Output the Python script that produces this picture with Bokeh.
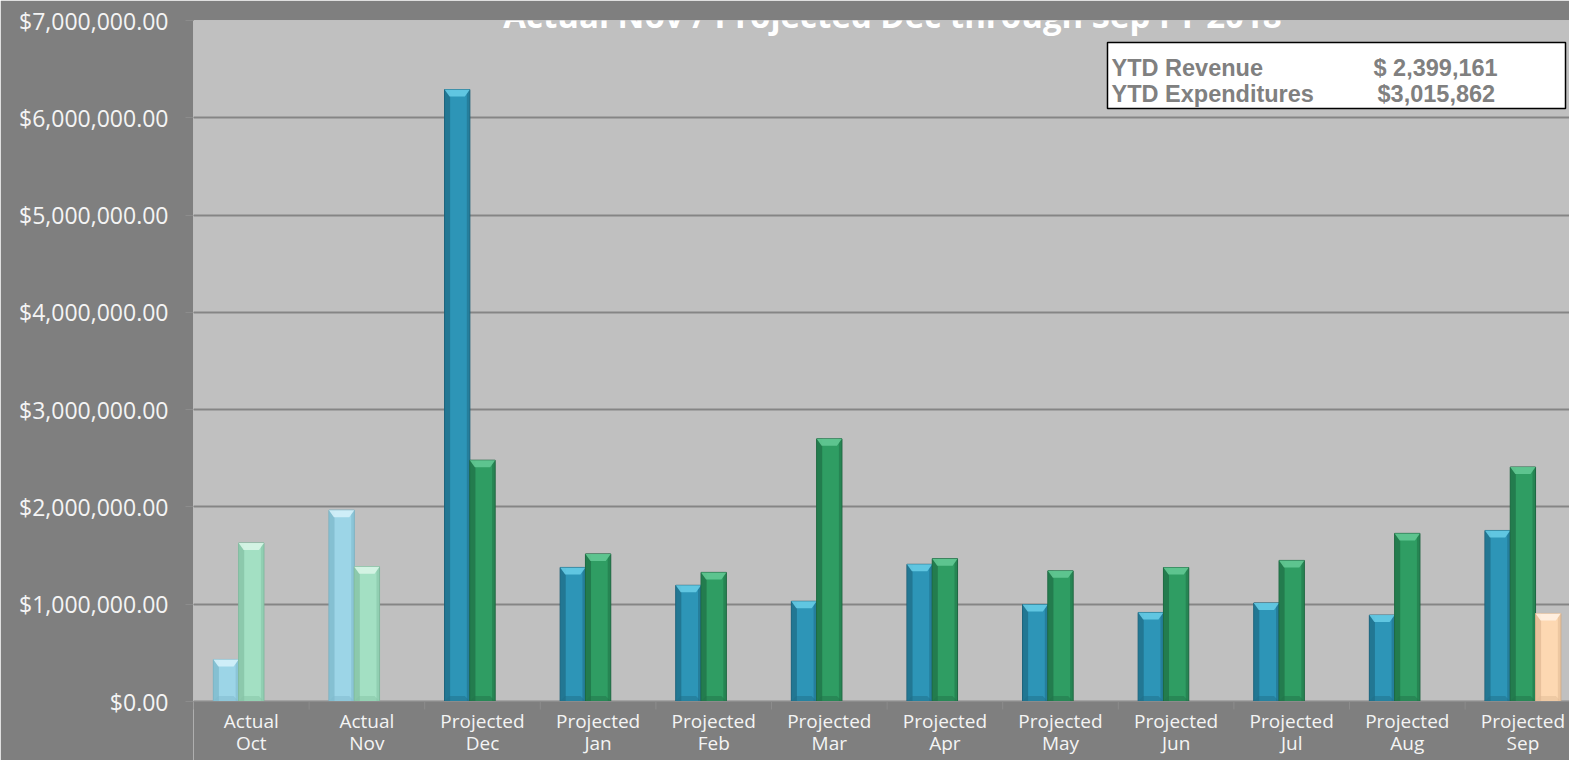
from bokeh.plotting import figure
from bokeh.models import (Range1d, FixedTicker, NumeralTickFormatter, Label,
                          BoxAnnotation, ColumnDataSource, Span)
from bokeh.core.properties import value
from bokeh.embed import file_html
from bokeh.resources import INLINE

# ---------------- data ----------------
status = ["Actual", "Actual", "Projected", "Projected", "Projected", "Projected",
          "Projected", "Projected", "Projected", "Projected", "Projected", "Projected"]
months = ["Oct", "Nov", "Dec", "Jan", "Feb", "Mar", "Apr", "May", "Jun", "Jul", "Aug", "Sep"]
revenue = [432000, 1967000, 6290000, 1378000, 1194000, 1030000,
           1410000, 997000, 915000, 1013000, 888000, 1758000]
expenditures = [1630000, 1386000, 2480000, 1517000, 1327000, 2700000,
                1468000, 1343000, 1377000, 1450000, 1728000, 2410000]
other = [0, 0, 0, 0, 0, 0, 0, 0, 0, 0, 0, 905000]
y_ticks = [0, 1000000, 2000000, 3000000, 4000000, 5000000, 6000000, 7000000]
title_text = "Actual Nov / Projected Dec through Sep FY 2018"
box_rows = [("YTD Revenue", "$ 2,399,161"), ("YTD Expenditures", "$3,015,862")]

# ---------------- geometry / styles ----------------
W, H = 1569, 760
FL, FT, Y0 = 193, 20, 701          # frame left, frame top, pixel row of $0
PX_CAT = 115.6
x_end = (W - FL) / PX_CAT
Y_MAX = 7000000
YPP = Y_MAX / (Y0 - FT)            # dollars per pixel
Y_MIN = -(H - Y0) * YPP            # frame runs down to the canvas bottom


def sx(px):  # canvas px -> data x
    return (px - FL) / PX_CAT


def sy(py):  # canvas px -> data y
    return (Y0 - py) * YPP


p = figure(width=W, height=H, output_backend="svg", toolbar_location=None,
           x_range=Range1d(0, x_end), y_range=Range1d(Y_MIN, Y_MAX),
           min_border_left=FL, min_border_top=FT, min_border_bottom=0, min_border_right=0)
p.background_fill_color = "#C0C0C0"
p.border_fill_color = "#7F7F7F"
p.outline_line_color = None

FONT = "Open Sans"
LABEL_COLOR = "#F4F4F4"
AXIS_COLOR = "#8C8C8C"

# dark band below the $0 line (category label area)
p.add_layout(BoxAnnotation(top=0, fill_color="#7F7F7F", fill_alpha=1, line_color=None,
                           level="underlay"))

# y axis
p.yaxis.ticker = FixedTicker(ticks=y_ticks)
p.yaxis.formatter = NumeralTickFormatter(format="$0,0.00")
p.yaxis.major_label_text_font = FONT
p.yaxis.major_label_text_font_size = "23px"
p.yaxis.major_label_text_color = LABEL_COLOR
p.yaxis.major_tick_out = 8
p.yaxis.major_tick_in = 0
p.yaxis.major_tick_line_color = AXIS_COLOR
p.yaxis.major_tick_line_width = 1
p.yaxis.minor_tick_line_color = None
p.yaxis.axis_line_color = None
p.yaxis.major_label_standoff = 17

# x axis drawn by hand: baseline, boundary ticks, two-line category labels
p.xaxis.visible = False
centers = [i + 0.5 for i in range(len(months))]
bounds = [i for i in range(len(months) + 1)]
p.add_layout(Span(location=0, dimension="width", line_color=AXIS_COLOR, line_width=1))
p.segment(x0=bounds, y0=[0] * len(bounds), x1=bounds, y1=[-8 * YPP] * len(bounds),
          line_color=AXIS_COLOR, line_width=1)
p.text(x=centers, y=[sy(720)] * len(centers), text=status, text_align="center",
       text_baseline="alphabetic", text_font=value(FONT), text_font_size="19px",
       text_color=LABEL_COLOR)
p.text(x=centers, y=[sy(742)] * len(centers), text=months, text_align="center",
       text_baseline="alphabetic", text_font=value(FONT), text_font_size="19px",
       text_color=LABEL_COLOR)

p.xgrid.grid_line_color = None
p.ygrid.ticker = FixedTicker(ticks=y_ticks)
p.ygrid.grid_line_color = "#858585"
p.ygrid.grid_line_width = 2

# ---------------- bars ----------------
BW = 25.3 / PX_CAT
palette = {
    ("rev", "Actual"): ("#9CD5E7", "#80BACD", "#D4F1FA", "#7AAFC0"),
    ("exp", "Actual"): ("#A3E0C3", "#86C3A6", "#D8F5E7", "#7DB79B"),
    ("rev", "Projected"): ("#2D95B7", "#1F6F8A", "#66CBE6", "#1A5D74"),
    ("exp", "Projected"): ("#2F9D63", "#217449", "#63C993", "#1C623E"),
    ("oth", "Projected"): ("#FDD8B2", "#E2BC96", "#FFF1E2", "#CFA884"),
    ("oth", "Actual"): ("#FDD8B2", "#E2BC96", "#FFF1E2", "#CFA884"),
}
series = [("rev", revenue, -1), ("exp", expenditures, 0), ("oth", other, 1)]
CH = 7 * YPP           # chevron height
CI = 5 / PX_CAT        # chevron inset
for key, vals, k in series:
    xs, tops, main, dark, light, line = [], [], [], [], [], []
    for i, v in enumerate(vals):
        if v <= 0:
            continue
        xs.append(centers[i] + k * BW)
        tops.append(v)
        c = palette[(key, status[i])]
        main.append(c[0]); dark.append(c[1]); light.append(c[2]); line.append(c[3])
    src = ColumnDataSource(dict(x=xs, top=tops, main=main, dark=dark, light=light, line=line,
                                xl=[x - BW / 2 + BW * 0.11 for x in xs],
                                xr=[x + BW / 2 - BW * 0.06 for x in xs],
                                cx=[[x - BW / 2, x + BW / 2, x + BW / 2 - CI, x - BW / 2 + CI] for x in xs],
                                cy=[[t, t, t - CH, t - CH] for t in tops],
                                bx=[[x - BW / 2, x + BW / 2, x + BW / 2 - CI, x - BW / 2 + CI] for x in xs],
                                by=[[0, 0, CH * 0.8, CH * 0.8] for t in tops]))
    p.vbar(x="x", top="top", bottom=0, width=BW, source=src, fill_color="main",
           line_color="line", line_width=1)
    p.vbar(x="xl", top="top", bottom=0, width=BW * 0.22, source=src, fill_color="dark",
           line_color=None, fill_alpha=0.8)
    p.vbar(x="xr", top="top", bottom=0, width=BW * 0.12, source=src, fill_color="dark",
           line_color=None, fill_alpha=0.6)
    p.patches(xs="cx", ys="cy", source=src, fill_color="light", line_color=None, fill_alpha=0.9)
    p.patches(xs="bx", ys="by", source=src, fill_color="dark", line_color=None, fill_alpha=0.5)

# ---------------- title ----------------
p.add_layout(Label(x=sx(892), y=sy(15), text=title_text, text_align="center",
                   text_baseline="alphabetic", text_font=FONT, text_font_style="bold",
                   text_font_size="33px", text_color="#FFFFFF"))

# ---------------- YTD box ----------------
p.add_layout(BoxAnnotation(left=sx(1107), right=sx(1565), top=sy(42), bottom=sy(108),
                           fill_color="#FFFFFF", fill_alpha=1, line_color="#000000",
                           line_width=1.5, line_alpha=1))
for r, (lab, val) in enumerate(box_rows):
    base = 67 + r * 26
    p.add_layout(Label(x=sx(1111), y=sy(base), text=lab, text_baseline="alphabetic",
                       text_font="Liberation Sans", text_font_style="bold",
                       text_font_size="23.5px", text_color="#808080"))
    p.add_layout(Label(x=sx(1373 + 4 * r), y=sy(base), text=val, text_baseline="alphabetic",
                       text_font="Liberation Sans", text_font_style="bold",
                       text_font_size="23.5px", text_color="#808080"))

open("out.html", "w").write(file_html(p, INLINE))
